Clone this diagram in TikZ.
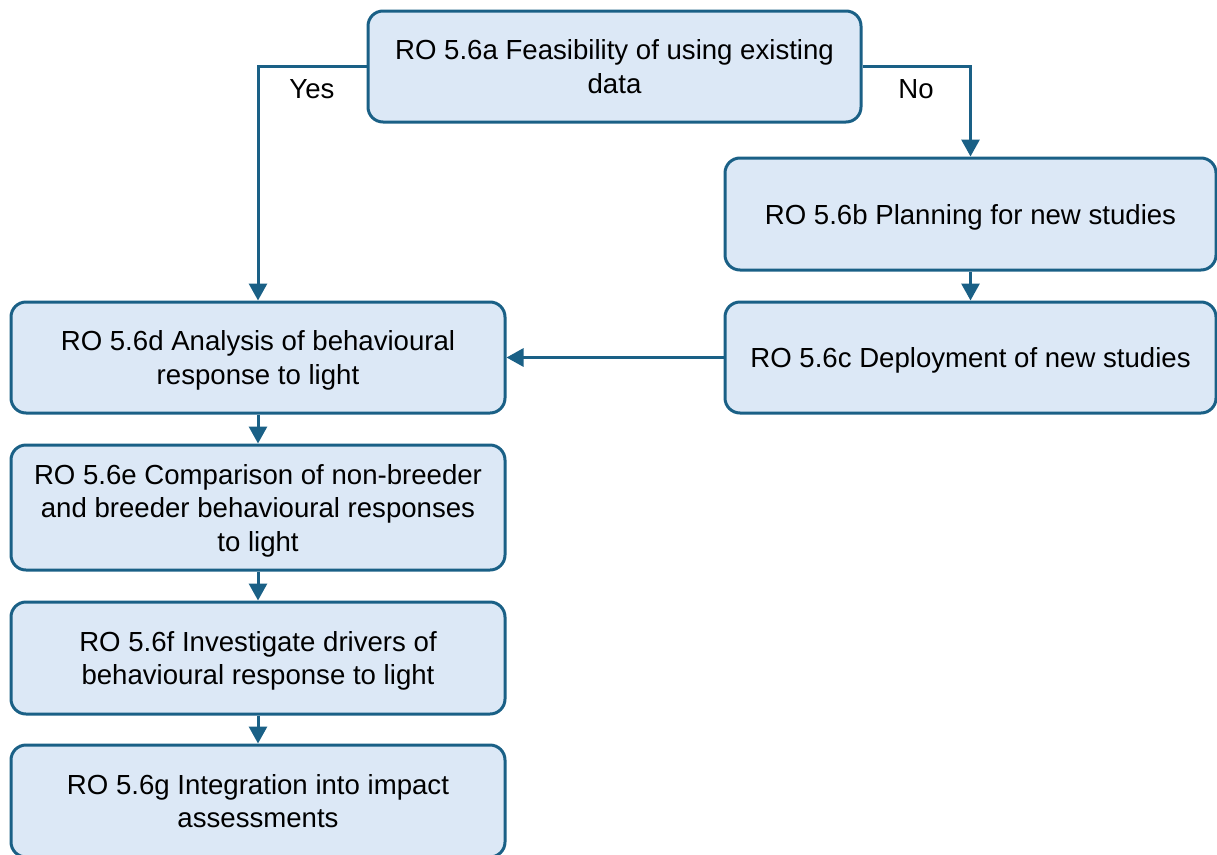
\documentclass[tikz,border=0pt]{standalone}
\usepackage{fontspec}
\setmainfont{Liberation Sans}
\usetikzlibrary{arrows.meta}
\definecolor{boxfill}{RGB}{220,232,246}
\definecolor{boxline}{RGB}{26,96,134}
\tikzset{
  box/.style={draw=boxline, fill=boxfill, line width=3pt, rounded corners=15pt,
    align=center, inner sep=0pt, text=black, text depth=0pt,
    font=\fontsize{27.6}{33.5}\selectfont},
  conn/.style={draw=boxline, line width=3pt, -{Triangle[length=17pt,width=18pt]}},
  lbl/.style={font=\fontsize{27.6}{33.5}\selectfont, text=black, inner sep=0pt}
}
\begin{document}
\begin{tikzpicture}[x=1pt,y=-1pt]
\useasboundingbox (0,0) rectangle (1217,854);
\node[box, minimum width=493pt, minimum height=111pt] (a) at (614.5,66.5) {RO 5.6a Feasibility of using existing\\data};
\node[box, minimum width=491pt, minimum height=112pt] (b) at (970.5,214) {RO 5.6b Planning for new studies};
\node[box, minimum width=491pt, minimum height=111pt] (c) at (970.5,357.5) {RO 5.6c Deployment of new studies};
\node[box, minimum width=494pt, minimum height=111pt] (d) at (258,357.5) {RO 5.6d Analysis of behavioural\\response to light};
\node[box, minimum width=494pt, minimum height=125pt] (e) at (258,507.5) {RO 5.6e Comparison of non-breeder\\and breeder behavioural responses\\to light};
\node[box, minimum width=494pt, minimum height=112pt] (f) at (258,658) {RO 5.6f Investigate drivers of\\behavioural response to light};
\node[box, minimum width=494pt, minimum height=112pt] (g) at (258,801) {RO 5.6g Integration into impact\\assessments};
\draw[conn] (a.west) -| (d.north);
\draw[conn] (a.east) -| (b.north);
\draw[conn] (b) -- (c);
\draw[conn] (c) -- (d);
\draw[conn] (d) -- (e);
\draw[conn] (e) -- (f);
\draw[conn] (f) -- (g);
\node[lbl] (yes) at (312,89) {Yes};
\node[lbl] (no) at (916,89) {No};
\end{tikzpicture}
\end{document}
